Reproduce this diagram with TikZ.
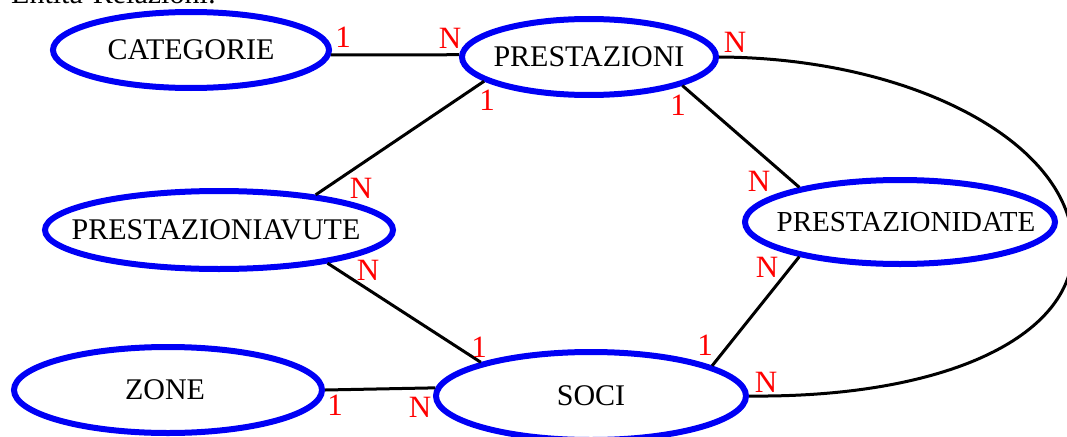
\documentclass[tikz,border=0pt]{standalone}
\usepackage{fontspec}
\setmainfont{Liberation Serif}
\usetikzlibrary{shapes.geometric}
\begin{document}
\begin{tikzpicture}[x=1pt,y=-1pt,
  entity/.style={ellipse, draw={rgb,255:red,0;green,0;blue,245}, line width=6pt, inner sep=0pt,
    font=\fontsize{30}{36}\selectfont},
  link/.style={draw=black, line width=3pt},
  card/.style={text=red, inner sep=0pt, font=\fontsize{31}{36}\selectfont},
  heading/.style={inner sep=0pt, anchor=base west, font=\fontsize{30}{36}\selectfont}]
\useasboundingbox (0,0) rectangle (1067,436);

% heading (cut by the top edge)
\node[heading] (title) at (11,4) {Entità-Relazioni:};

% entities
\node[entity, minimum width=276pt, minimum height=76pt] (cat) at (191,50) {\makebox[0pt]{CATEGORIE}};
\node[entity, minimum width=254pt, minimum height=76pt] (pre) at (589,57) {\makebox[0pt]{PRESTAZIONI}};
\node[entity, minimum width=348pt, minimum height=78pt] (pav) at (219,230) {\makebox[0pt]{\hspace*{-6pt}PRESTAZIONIAVUTE}};
\node[entity, minimum width=310pt, minimum height=84pt] (pda) at (900,222) {\makebox[0pt]{\hspace*{12pt}\fontsize{29}{36}\selectfont PRESTAZIONIDATE}};
\node[entity, minimum width=308pt, minimum height=86pt] (zon) at (168,390) {\makebox[0pt]{\hspace*{-6pt}ZONE}};
\node[entity, minimum width=310pt, minimum height=88pt] (soc) at (591,396) {\makebox[0pt]{SOCI}};

\coordinate (far) at (1073,248);

% connectors
\draw[link] (cat.-2) -- (pre.179);
\draw[link] (pre.193.6) -- (pav.20.6);
\draw[link] (pre.-17.5) -- (pda.161.2);
\draw[link] (pda.199.7) -- (soc.14.7);
\draw[link] (pav.-17.3) -- (soc.163.9);
\draw[link] (zon.0.7) -- (soc.177.2);
\draw[link] (pre.0) .. controls (913,58) and (1073,143) .. (far)
  .. controls (1073,338) and (943,398) .. (soc.-0.5);

% cardinalities
\node[card] (k1) at (343,37) {1};
\node[card] (k2) at (450,38) {N};
\node[card] (k3) at (735,42) {N};
\node[card] (k4) at (487,100) {1};
\node[card] (k5) at (678,105) {1};
\node[card] (k6) at (361,188) {N};
\node[card] (k7) at (759,181) {N};
\node[card] (k8) at (368,270) {N};
\node[card] (k9) at (767,267) {N};
\node[card] (k10) at (479,347) {1};
\node[card] (k11) at (705,345) {1};
\node[card] (k12) at (766,382) {N};
\node[card] (k13) at (335,405) {1};
\node[card] (k14) at (420,407) {N};
\end{tikzpicture}
\end{document}
